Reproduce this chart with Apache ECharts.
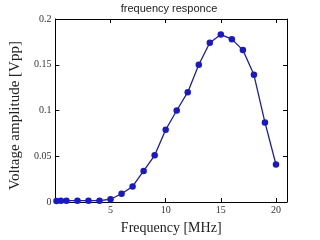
<!DOCTYPE html>
<html><head><meta charset="utf-8">
<script src="https://cdn.jsdelivr.net/npm/echarts@6/dist/echarts.min.js"></script>
<style>html,body{margin:0;padding:0;background:#fff}#c{width:320px;height:240px}</style>
</head><body><div id="c"></div>
<script>
const freqs = [0.1, 0.5, 1, 2, 3, 4, 5, 6, 7, 8, 9, 10, 11, 12, 13, 14, 15, 16, 17, 18, 19, 20];
const amps  = [0.001, 0.0015, 0.0015, 0.0015, 0.0015, 0.0015, 0.003, 0.009, 0.017, 0.034, 0.051, 0.079, 0.100, 0.120, 0.150, 0.174, 0.183, 0.178, 0.166, 0.139, 0.087, 0.041];
const xTicks = [5, 10, 15, 20];
const titleText = 'frequency responce';
const xName = 'Frequency [MHz]';
const yName = 'Voltage amplitude [Vpp]';

const chart = echarts.init(document.getElementById('c'), null, {renderer: 'canvas'});
const serif = 'Liberation Serif';
const axisCommon = {
  axisLine: {show: true, onZero: false, lineStyle: {color: '#000', width: 1}},
  axisTick: {show: true, inside: true, length: 4, lineStyle: {color: '#000'}},
  splitLine: {show: false}
};
chart.setOption({
  animation: false,
  title: {text: titleText, left: 164, top: -2, textAlign: 'center',
    textStyle: {fontFamily: 'Liberation Sans', fontSize: 11, fontWeight: 'normal', color: '#222'}},
  grid: {left: 41, right: 33, top: 19, bottom: 30},
  xAxis: [
    Object.assign({type: 'value', min: 0, max: 21, interval: 5, position: 'bottom',
      name: xName, nameLocation: 'middle', nameGap: 19,
      nameTextStyle: {fontFamily: serif, fontSize: 14, color: '#222'},
      axisLabel: {fontFamily: serif, fontSize: 10, color: '#333', margin: 3,
        formatter: v => xTicks.includes(v) ? String(v) : ''}}, axisCommon),
    Object.assign({type: 'value', min: 0, max: 21, interval: 5, position: 'top',
      axisLabel: {show: false}}, axisCommon)
  ],
  yAxis: [
    Object.assign({type: 'value', min: 0, max: 0.2, interval: 0.05, position: 'left',
      name: yName, nameLocation: 'middle', nameGap: 27,
      nameTextStyle: {fontFamily: serif, fontSize: 15, color: '#222', padding: [0, 0, 0, -10]},
      axisLabel: {fontFamily: serif, fontSize: 10, color: '#333', margin: 4}}, axisCommon),
    Object.assign({type: 'value', min: 0, max: 0.2, interval: 0.05, position: 'right',
      axisLabel: {show: false}}, axisCommon)
  ],
  series: [{
    type: 'line',
    data: freqs.map((f, i) => [f, amps[i]]),
    symbol: 'circle', symbolSize: 6.5,
    lineStyle: {color: '#1c1ca8', width: 1.3},
    itemStyle: {color: '#1a1ac0'},
    smooth: false
  }]
});
</script></body></html>
